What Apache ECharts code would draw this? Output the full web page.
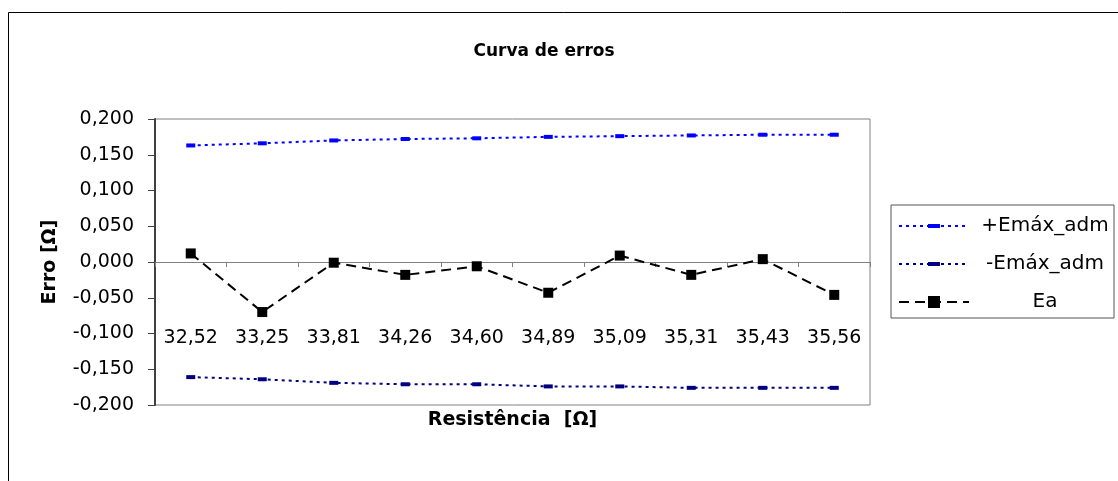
<!DOCTYPE html>
<html>
<head>
<meta charset="utf-8">
<script src="https://cdn.jsdelivr.net/npm/echarts@6/dist/echarts.min.js"></script>
<style>
html,body{margin:0;padding:0;background:#fff;}
#chart{width:1118px;height:481px;}
</style>
</head>
<body>
<div id="chart"></div>
<script>
var categories = ['32,52','33,25','33,81','34,26','34,60','34,89','35,09','35,31','35,43','35,56'];
var emaxPos = [0.163, 0.166, 0.170, 0.172, 0.173, 0.175, 0.176, 0.177, 0.178, 0.178];
var emaxNeg = [-0.161, -0.164, -0.169, -0.171, -0.171, -0.174, -0.174, -0.176, -0.176, -0.176];
var ea = [0.012, -0.070, -0.001, -0.018, -0.006, -0.043, 0.009, -0.018, 0.004, -0.046];
var seriesNames = ['+Emáx_adm', '-Emáx_adm', 'Ea'];

var chart = echarts.init(document.getElementById('chart'));
var font = '"DejaVu Sans", Verdana, sans-serif';
// horizontal dash marker drawn inside a square box (degenerate corner points keep the box square)
var dashPath = 'path://M0,0L0,0M0,4H12V8H0ZM12,12L12,12';
chart.setOption({
  animation: false,
  backgroundColor: '#fff',
  textStyle: {fontFamily: font},
  title: {
    text: 'Curva de erros',
    left: 539, top: 38, textAlign: 'center',
    textStyle: {fontSize: 17, fontWeight: 'bold', color: '#000', fontFamily: font}
  },
  graphic: [{
    type: 'rect', silent: true, z: -1,
    shape: {x: 8.5, y: 12.5, width: 1200, height: 600},
    style: {fill: 'none', stroke: '#000', lineWidth: 1}
  }],
  grid: {
    left: 155, right: 248, top: 119, bottom: 76,
    outerBoundsMode: 'none', containLabel: false,
    show: true, borderColor: '#808080', borderWidth: 1, backgroundColor: 'transparent'
  },
  legend: {
    orient: 'vertical',
    left: 891, top: 205,
    padding: [11, 2, 6, 7],
    itemWidth: 70, itemHeight: 15, itemGap: 18,
    borderColor: '#555', borderWidth: 1,
    data: seriesNames,
    formatter: function (n) { return '{s|}{c|' + n + '}'; },
    textStyle: {
      fontSize: 20, color: '#000', fontFamily: font, lineHeight: 20,
      rich: {
        s: {width: 4, fontSize: 20, lineHeight: 20},
        c: {width: 134, align: 'center', fontSize: 20, lineHeight: 20, fontFamily: font, color: '#000'}
      }
    }
  },
  xAxis: {
    type: 'category',
    data: categories,
    boundaryGap: true,
    name: 'Resistência  [Ω]',
    nameLocation: 'middle',
    nameGap: 6,
    nameMoveOverlap: false,
    nameTextStyle: {fontSize: 19, fontWeight: 'bold', color: '#000', fontFamily: font},
    axisLine: {onZero: true, lineStyle: {color: '#808080', width: 1}},
    axisTick: {show: true, alignWithLabel: false, length: 5, lineStyle: {color: '#808080'}},
    axisLabel: {margin: -76, fontSize: 19, color: '#000', fontFamily: font},
    splitLine: {show: false}
  },
  yAxis: {
    type: 'value',
    min: -0.2, max: 0.2, interval: 0.05,
    name: 'Erro [Ω]',
    nameLocation: 'middle',
    nameGap: 95,
    nameRotate: 90,
    nameMoveOverlap: false,
    nameTextStyle: {fontSize: 19, fontWeight: 'bold', color: '#000', fontFamily: font},
    axisLine: {show: true, lineStyle: {color: '#404040', width: 2}},
    axisTick: {show: true, length: 7, lineStyle: {color: '#404040'}},
    axisLabel: {
      fontSize: 19, color: '#000', fontFamily: font, margin: 21,
      formatter: function (v) { return v.toFixed(3).replace('.', ','); }
    },
    splitLine: {show: false}
  },
  series: [
    {
      name: seriesNames[0], type: 'line', data: emaxPos,
      symbol: dashPath, symbolSize: [9, 12],
      itemStyle: {color: '#0000FF'},
      lineStyle: {color: '#0000FF', width: 2, type: [3, 4]}
    },
    {
      name: seriesNames[1], type: 'line', data: emaxNeg,
      symbol: dashPath, symbolSize: [9, 12],
      itemStyle: {color: '#000080'},
      lineStyle: {color: '#000080', width: 2, type: [3, 4]}
    },
    {
      name: seriesNames[2], type: 'line', data: ea,
      symbol: 'rect', symbolSize: 10,
      itemStyle: {color: '#000'},
      lineStyle: {color: '#000', width: 2, type: [10, 6]}
    }
  ]
});
</script>
</body>
</html>
